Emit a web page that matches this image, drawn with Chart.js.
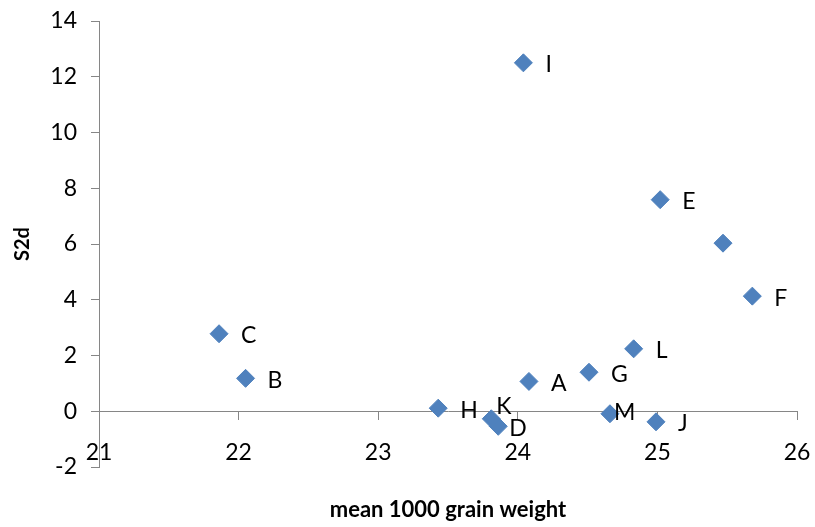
<!DOCTYPE html>
<html>
<head>
<meta charset="utf-8">
<script src="https://cdn.jsdelivr.net/npm/chart.js@4"></script>
<style>
  html, body { margin: 0; padding: 0; background: #fff; }
  #wrap { width: 815px; height: 527px; }
</style>
</head>
<body>
<div id="wrap"><canvas id="mychart" width="815" height="527"></canvas></div>
<script>
// genotypes, mean 1000 grain weight and S2d
const names = ["A", "B", "C", "D", "E", "F", "G", "H", "I", "J", "K", "L", "M", ""];
const grainWeight = [24.08, 22.05, 21.86, 23.86, 25.02, 25.68, 24.51, 23.43, 24.04, 24.99, 23.81, 24.83, 24.66, 25.47];
const s2d = [1.07, 1.18, 2.78, -0.54, 7.59, 4.13, 1.40, 0.11, 12.5, -0.38, -0.27, 2.24, -0.09, 6.03];

const xTicks = [21, 22, 23, 24, 25, 26];
const yTicks = [-2, 0, 2, 4, 6, 8, 10, 12, 14];

const fontFamily = "Lato, 'Open Sans', sans-serif";
const axisGrey = "#868686";
const markerBlue = "#4F81BD";

// a few labels sit off their usual spot so they don't overlap
const labelNudge = {
  K: { dx: 5, dy: -12 },
  D: { dx: 11, dy: 2 },
  M: { dx: 4, dy: -1 }
};

const pointNames = {
  id: "pointNames",
  afterDatasetsDraw(chart) {
    let ctx = chart.ctx;
    let meta = chart.getDatasetMeta(0);
    ctx.save();
    ctx.font = "23px " + fontFamily;
    ctx.fillStyle = "#000";
    ctx.textAlign = "left";
    ctx.textBaseline = "middle";
    meta.data.forEach(function(pt, i) {
      let name = names[i];
      if (!name) return;
      let nudge = labelNudge[name] || { dx: 22, dy: 2 };
      ctx.fillText(name, pt.x + nudge.dx, pt.y + nudge.dy);
    });
    ctx.restore();
  }
};

let points = grainWeight.map((x, i) => ({ x: x, y: s2d[i] }));

let ctx = document.getElementById("mychart").getContext("2d");
let myChart = new Chart(ctx, {
  type: "scatter",
  data: {
    datasets: [{
      label: "S2d",
      data: points,
      pointStyle: "rectRot",
      pointRadius: 9,
      pointHoverRadius: 9,
      backgroundColor: markerBlue,
      borderColor: markerBlue,
      borderWidth: 1
    }]
  },
  options: {
    responsive: false,
    animation: false,
    events: [],
    layout: { padding: { top: 21, right: 18, bottom: 60, left: 0 } },
    plugins: {
      legend: { display: false },
      tooltip: { enabled: false }
    },
    scales: {
      x: {
        type: "linear",
        position: { y: 0 },
        min: 21,
        max: 26,
        afterBuildTicks: scale => { scale.ticks = xTicks.map(v => ({ value: v })); },
        afterFit: scale => {
          scale.height = 112;
          scale.paddingLeft = 0;
          scale.paddingRight = 0;
        },
        grid: { display: true, drawOnChartArea: false, drawTicks: true, tickLength: 8, color: axisGrey },
        border: { display: true, color: axisGrey, width: 1 },
        ticks: { color: "#000", padding: 20, font: { size: 23, family: fontFamily } },
        title: {
          display: true,
          text: "mean 1000 grain weight",
          color: "#000",
          padding: 0,
          font: { size: 22, weight: "bold", family: fontFamily }
        }
      },
      y: {
        type: "linear",
        position: "left",
        min: -2,
        max: 14,
        afterBuildTicks: scale => { scale.ticks = yTicks.map(v => ({ value: v })); },
        afterFit: scale => {
          scale.width = 99;
          scale.paddingTop = 0;
          scale.paddingBottom = 0;
        },
        grid: { display: true, drawOnChartArea: false, drawTicks: true, tickLength: 8, color: axisGrey },
        border: { display: true, color: axisGrey, width: 1 },
        ticks: { color: "#000", padding: 14, font: { size: 23, family: fontFamily } },
        title: {
          display: true,
          text: "S2d",
          color: "#000",
          padding: { top: 11, bottom: 0 },
          font: { size: 20, weight: "bold", family: fontFamily }
        }
      }
    }
  },
  plugins: [pointNames]
});
</script>
</body>
</html>
